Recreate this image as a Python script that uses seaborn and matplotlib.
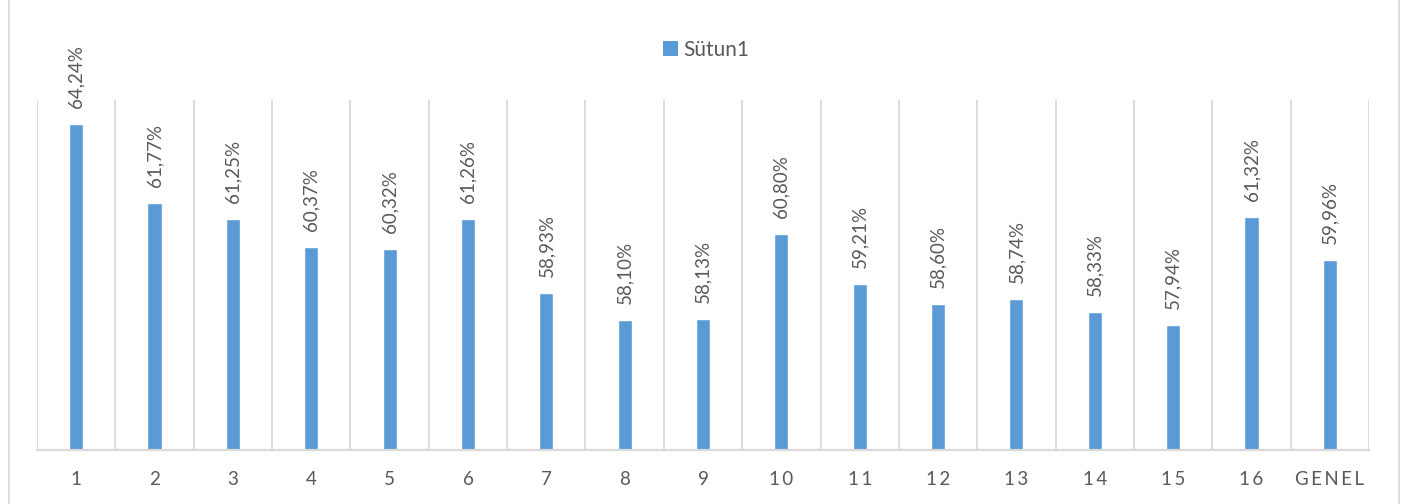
import matplotlib
matplotlib.use("Agg")
import matplotlib.pyplot as plt
from matplotlib.lines import Line2D
from matplotlib.patches import Patch
import seaborn as sns
import pandas as pd
import numpy as np

categories = ["1", "2", "3", "4", "5", "6", "7", "8", "9", "10", "11", "12", "13", "14", "15", "16", "GENEL"]
values = [64.24, 61.77, 61.25, 60.37, 60.32, 61.26, 58.93, 58.10, 58.13, 60.80, 59.21, 58.60, 58.74, 58.33, 57.94, 61.32, 59.96]
series_name = "Sütun1"

BAR = "#5B9BD5"
GRID = "#D9D9D9"
TXT = "#595959"

sns.set_theme(style="white")
plt.rcParams["font.family"] = ["Lato", "DejaVu Sans"]

df = pd.DataFrame({"cat": categories, "val": values})

fig = plt.figure(figsize=(14.16, 5.04), dpi=100)
ax = fig.add_axes([37/1416, 1-450/504, (1369-37)/1416, 350/504])

sns.barplot(data=df, x="cat", y="val", order=categories, color=BAR,
            width=0.18, saturation=1, ax=ax)

ax.set_ylim(54, 65)
ax.set_xlim(-0.5, len(categories) - 0.5)
ax.set_xlabel("")
ax.set_ylabel("")
ax.set_yticks([])

ax.set_xticks(np.arange(-0.5, len(categories), 1), minor=True)
ax.grid(which="minor", axis="x", color=GRID, linewidth=1.3)
ax.grid(which="major", visible=False)
ax.tick_params(axis="x", which="both", length=0, pad=15)
ax.set_xticks(range(len(categories)))
ax.set_xticklabels(["\u2009".join(c) if len(c) > 1 else c for c in categories],
                   fontsize=13.5, color=TXT)

for s in ["left", "top", "right"]:
    ax.spines[s].set_visible(False)
ax.spines["bottom"].set_color(GRID)
ax.spines["bottom"].set_linewidth(1.6)

for i, v in enumerate(values):
    ax.annotate(f"{v:.2f}%".replace(".", ","), xy=(i, v), xytext=(0, 11.5),
                textcoords="offset points", rotation=90, ha="center", va="bottom",
                fontsize=13.5, color=TXT)

handle = Patch(facecolor=BAR, edgecolor="none")
fig.legend([handle], [series_name], loc="center", bbox_to_anchor=(706/1416, 1-50/504),
           frameon=False, fontsize=15, labelcolor=TXT, handlelength=0.7, handleheight=0.7,
           handletextpad=0.25)

fig.add_artist(Line2D([8.5/1416, 8.5/1416], [0, 1], color=GRID, linewidth=1.3))
fig.add_artist(Line2D([1398.5/1416, 1398.5/1416], [0, 1], color=GRID, linewidth=1.3))

fig.savefig("out.png", dpi=100, facecolor="white")
